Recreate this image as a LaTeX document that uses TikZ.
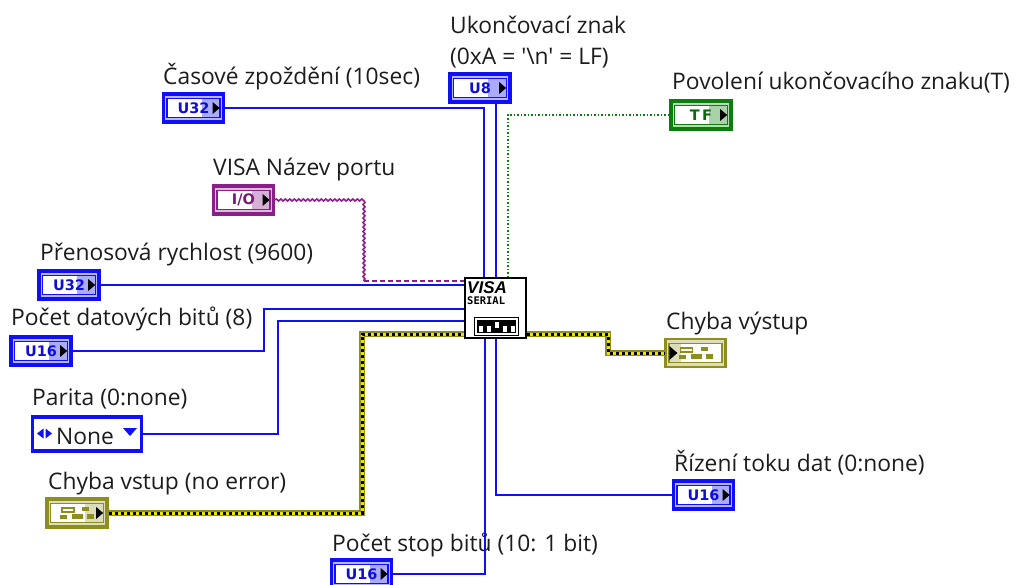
\documentclass[tikz,border=0pt]{standalone}
\usepackage{fontspec}
\setmainfont{Open Sans}
\newfontfamily\plainfont{Open Sans}
\newfontfamily\termfont{DejaVu Sans}
\newfontfamily\visafont{Liberation Sans}
\newfontfamily\chipfont{DejaVu Sans Mono}
\usetikzlibrary{decorations.pathmorphing}
\definecolor{numblue}{HTML}{1010F8}
\definecolor{portpurple}{HTML}{8A1F8A}
\definecolor{boolgreen}{HTML}{0B7F0B}
\definecolor{errolive}{HTML}{8E8E1E}
\definecolor{labelgray}{HTML}{1C1C1C}
\tikzset{
  lbl/.style={anchor=base west,inner sep=0pt,text=labelgray,font=\fontsize{22.8}{26}\selectfont},
  termbox/.style={rectangle,line width=3.4pt,minimum width=60pt,minimum height=28pt,inner sep=0pt},
  terminner/.style={rectangle,fill=white,line width=1.3pt,minimum width=53pt,minimum height=19pt,inner sep=0pt,font=\termfont\bfseries\fontsize{14.5}{14.5}\selectfont},
  wire/.style={draw=numblue,line width=1.8pt},
  errwire/.style={draw=yellow!85!olive,line width=3pt,preaction={draw=errolive,line width=5.8pt},postaction={draw=black,dash pattern=on 3pt off 3pt}},
  portwave/.style={draw=portpurple,line width=1.6pt,decorate,decoration={zigzag,segment length=4.5pt,amplitude=1pt}},
  portdash/.style={draw=portpurple,line width=1.6pt,dash pattern=on 5pt off 3pt},
  boolwire/.style={draw=boolgreen,line width=1.6pt,dash pattern=on 1.5pt off 2pt},
}
% terminal: name, position, colour, text
\newcommand{\terminal}[4]{
  \node[termbox,draw=#3,fill=#3!30] (#1) at (#2) {};
  \node[terminner,draw=#3,text=#3!85!black] (#1in) at (#1) {#4};
  \fill[#3,opacity=.35] ([xshift=-19pt]#1in.north east) rectangle (#1in.south east);
  \fill[black] ([xshift=-8pt,yshift=6pt]#1in.east) -- ([xshift=-1pt]#1in.east) -- ([xshift=-8pt,yshift=-6pt]#1in.east) -- cycle;
}
% error terminal: name, position, frame width
\newcommand{\errterm}[3]{
  \node[termbox,draw=errolive,fill=errolive!30,line width=#3] (#1) at (#2) {};
  \node[terminner,draw=errolive] (#1in) at (#1) {};
  \foreach \xa/\ya/\xb/\yb in {-5/1/6/6, -17/2/-10/6, 10/1/17/6, 5/-6/12/-2}
    \fill[errolive] ([shift={(\xa,\ya)}]#1) rectangle ([shift={(\xb,\yb)}]#1);
  \draw[errolive,line width=1.2pt] ([shift={(-15,-5)}]#1) rectangle ([shift={(-3,-1)}]#1);
}
\begin{document}
\begin{tikzpicture}[x=1pt,y=-1pt]
  \clip (0,0) rectangle (1019,585);
  \fill[white] (0,0) rectangle (1019,585);

  % Popisky
  \node[lbl] (lbUkonc) at (450,34) {Ukončovací znak};
  \node[lbl] (lbHex) at (450,65) {\plainfont (0xA = '\textbackslash n' = LF)};
  \node[lbl] (lbCas) at (163,85) {Časové zpoždění (10sec)};
  \node[lbl] (lbPov) at (672,90) {Povolení ukončovacího znaku(T)};
  \node[lbl] (lbVisa) at (213,176) {VISA Název portu};
  \node[lbl] (lbRych) at (40,260) {Přenosová rychlost (9600)};
  \node[lbl] (lbDat) at (11,325) {Počet datových bitů (8)};
  \node[lbl] (lbPar) at (32,405) {Parita (0:none)};
  \node[lbl] (lbVst) at (48,489) {Chyba vstup (no error)};
  \node[lbl] (lbVys) at (666,329) {Chyba výstup};
  \node[lbl] (lbTok) at (674,471) {Řízení toku dat (0:none)};
  \node[lbl] (lbStop) at (332,551) {Počet stop bitů (10: 1 bit)};

  % Terminály
  \terminal{tCas}{193.5,108}{numblue}{U32}
  \terminal{tUviii}{480,88}{numblue}{U8}
  \terminal{tPov}{701,115}{boolgreen}{T\,F}
  \terminal{tPort}{243.5,200}{portpurple}{I/O}
  \terminal{tRych}{69,285}{numblue}{U32}
  \terminal{tDat}{41,351}{numblue}{U16}
  \terminal{tStop}{361.5,574}{numblue}{U16}
  \terminal{tTok}{703.5,495}{numblue}{U16}

  \node[rectangle,fill=white,draw=numblue,line width=3.4pt,minimum width=109pt,minimum height=34pt,inner sep=0pt] (tPar) at (87,434) {};
  \node[lbl] (lbNone) at (56,444) {None};
  \fill[numblue] (37,433.5) -- (43.5,428.5) -- (43.5,438.5) -- cycle;
  \fill[numblue] (52,433.5) -- (45.5,428.5) -- (45.5,438.5) -- cycle;
  \fill[numblue] (123,428) -- (137,428) -- (130,436) -- cycle;

  \errterm{tVst}{77,513}{3.4pt}
  \fill[errolive,opacity=.3] ([xshift=-19pt]tVstin.north east) rectangle (tVstin.south east);
  \fill[black] ([xshift=-8pt,yshift=6pt]tVstin.east) -- ([xshift=-1pt]tVstin.east) -- ([xshift=-8pt,yshift=-6pt]tVstin.east) -- cycle;
  \errterm{tVys}{695.5,353}{2.2pt}
  \fill[errolive,opacity=.3] (tVysin.north west) rectangle ([xshift=13pt]tVysin.south west);
  \fill[black] ([xshift=1pt,yshift=7pt]tVysin.west) -- ([xshift=9pt]tVysin.west) -- ([xshift=1pt,yshift=-7pt]tVysin.west) -- cycle;

  % Body na bloku
  \coordinate (pCas) at (484,277);
  \coordinate (pUviii) at (496,277);
  \coordinate (pPov) at (508,277);
  \coordinate (pPort) at (464,281);
  \coordinate (pRych) at (464,285);
  \coordinate (pDat) at (464,309);
  \coordinate (pPar) at (464,321);
  \coordinate (pVst) at (464,334);
  \coordinate (pVys) at (527,334);
  \coordinate (pStop) at (485,339);
  \coordinate (pTok) at (496,339);
  \coordinate (bendPort) at (364,281);

  % Dráty
  \draw[wire] (tCas.east) -| (pCas);
  \draw[wire] (tUviii.south -| pUviii) -- (pUviii);
  \draw[boolwire] (tPov.west) -| (pPov);
  \draw[portwave] (tPort.east) -| (bendPort);
  \draw[portdash] (bendPort) -- (pPort);
  \draw[wire] (tRych.east) -- (pRych);
  \draw[wire] (tDat.east) -- (264,351) -- (264,309) -- (pDat);
  \draw[wire] (tPar.east) -- (278,434) -- (278,321) -- (pPar);
  \draw[errwire] (tVst.east) -- (362,513) -- (362,334) -- (pVst);
  \draw[errwire] (pVys) -- (608,334) -- (608,353) -- (tVys.west);
  \draw[wire] (tStop.east) -| (pStop);
  \draw[wire] (tTok.west) -| (pTok);

  % Blok VISA
  \node[rectangle,fill=white,draw=black,line width=2pt,minimum width=61pt,minimum height=60pt,inner sep=0pt] (visa) at (495.5,308) {};
  \node[inner sep=0pt,anchor=base west,font=\visafont\bfseries\itshape\fontsize{17}{17}\selectfont] (visaTxt) at (467,293) {VISA};
  \node[inner sep=0pt,anchor=base west,font=\chipfont\bfseries\fontsize{10.5}{10.5}\selectfont] (visaSer) at (467,304.5) {SERIAL};
  \node[rectangle,draw=black,line width=1.2pt,minimum width=44pt,minimum height=18pt,inner sep=0pt] (dipOut) at (496.5,326.5) {};
  \node[rectangle,fill=black,minimum width=39pt,minimum height=13pt,inner sep=0pt] (dipIn) at (496.5,326.5) {};
  \foreach \dx/\ya/\yb in {-16/-1/5, -8/-1/5, 0/-5/1, 8/-1/5, 16/-1/5}
    \fill[white] ([shift={(\dx-2,\ya)}]dipIn) rectangle ([shift={(\dx+2,\yb)}]dipIn);
\end{tikzpicture}
\end{document}
